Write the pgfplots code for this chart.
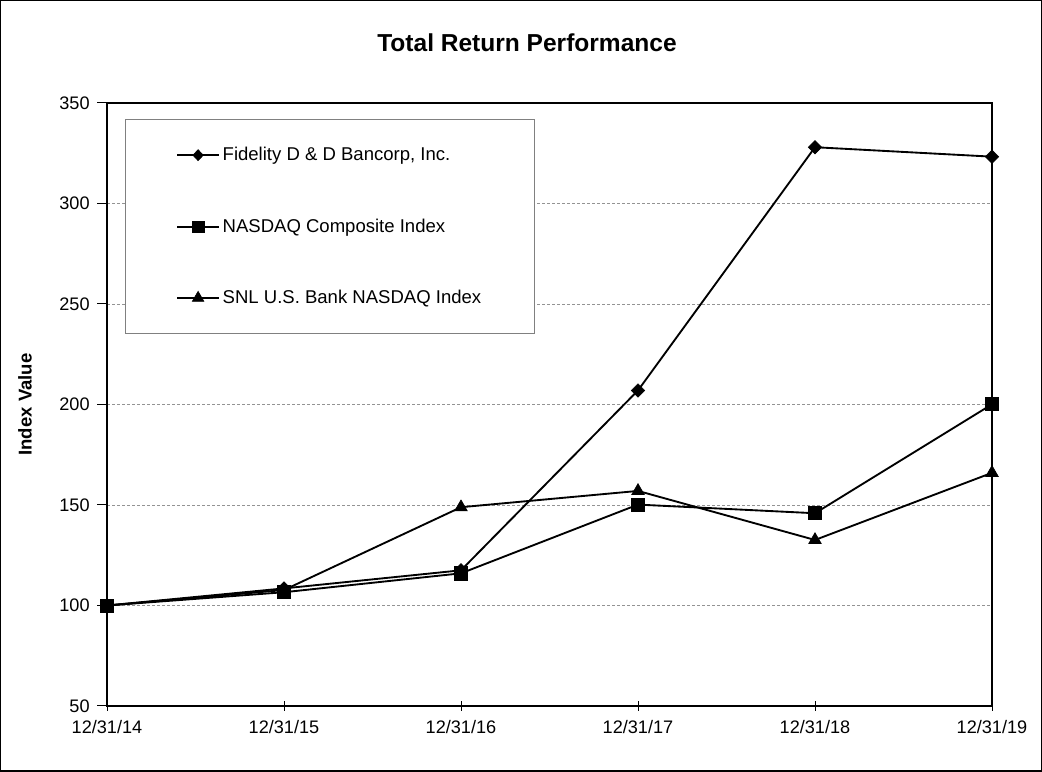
\documentclass[border=0pt]{standalone}
\usepackage{fontspec}
\setmainfont{Liberation Sans}
\usepackage{pgfplots}
\pgfplotsset{compat=1.18}
\usetikzlibrary{plotmarks}
\begin{document}
\begin{tikzpicture}
\begin{axis}[
  scale only axis,
  width=663.75pt, height=452.25pt,
  xmin=0, xmax=5, ymin=50, ymax=350,
  xtick={0,1,2,3,4,5},
  xticklabels={12/31/14,12/31/15,12/31/16,12/31/17,12/31/18,12/31/19},
  ytick={50,100,150,200,250,300,350},
  /pgf/number format/assume math mode=true,
  ticklabel style={font=\fontsize{13.6}{16}\selectfont},
  x tick label style={yshift=-3.5pt},
  y tick label style={xshift=-2pt},
  tick style={black, line width=0.75pt},
  xtick pos=bottom, ytick pos=left,
  xtick align=center, ytick align=outside,
  major tick length=7.5pt,
  ymajorgrids,
  grid style={gray!85, dash pattern=on 2.25pt off 1.5pt, line width=0.6pt},
  axis line style={line width=1.5pt},
  title={Total Return Performance},
  title style={font=\bfseries\fontsize{18.4}{22}\selectfont, at={(axis description cs:0.4746,1.0862)}, anchor=center},
  ylabel={Index Value},
  ylabel style={font=\bfseries\fontsize{13.9}{16}\selectfont, at={(axis description cs:-0.0927,0.5)}, anchor=center},
  legend style={at={(axis description cs:0.02034,0.9735)}, anchor=north west,
    draw=gray, line width=0.75pt, fill=white,
    font=\fontsize{13.9}{16}\selectfont,
    inner xsep=38pt, inner ysep=19pt, row sep=38pt,
    nodes={inner sep=2pt}},
  legend cell align=left,
]
\addplot[black, line width=1.4pt, mark=diamond*, mark size=5pt, mark options={fill=black, xscale=1.33, line width=0.5pt},
  legend image code/.code={%
    \draw[line width=1.4pt, black, mark repeat=2, mark phase=2, mark=diamond*, mark size=4.1pt, mark options={fill=black, xscale=1.25, line width=0.5pt}] plot coordinates {(0pt,0pt) (15.75pt,0pt) (31.5pt,0pt)};}]
  coordinates {(0,100) (1,108.5) (2,117.5) (3,207) (4,328) (5,323.3)};
\addlegendentry{Fidelity D \& D Bancorp, Inc.}
\addplot[black, line width=1.4pt, mark=square*, mark size=4.9pt, mark options={fill=black, line width=0.5pt},
  legend image code/.code={%
    \draw[line width=1.4pt, black, mark repeat=2, mark phase=2, mark=square*, mark size=4.3pt, mark options={fill=black, line width=0.5pt}] plot coordinates {(0pt,0pt) (15.75pt,0pt) (31.5pt,0pt)};}]
  coordinates {(0,100) (1,106.6) (2,116) (3,150.2) (4,145.9) (5,200.1)};
\addlegendentry{NASDAQ Composite Index}
\addplot[black, line width=1.4pt, mark=triangle*, mark size=5.4pt, mark options={fill=black, line width=0.5pt},
  legend image code/.code={%
    \draw[line width=1.4pt, black, mark repeat=2, mark phase=2, mark=triangle*, mark size=5pt, mark options={fill=black, line width=0.5pt}] plot coordinates {(0pt,0pt) (15.75pt,0pt) (31.5pt,0pt)};}]
  coordinates {(0,100) (1,107.7) (2,148.9) (3,157) (4,132.6) (5,166)};
\addlegendentry{SNL U.S. Bank NASDAQ Index}
\end{axis}
\draw[line width=1.125pt] (-79.69pt,-48.94pt) rectangle (700.69pt,528.94pt);
\end{tikzpicture}
\end{document}
